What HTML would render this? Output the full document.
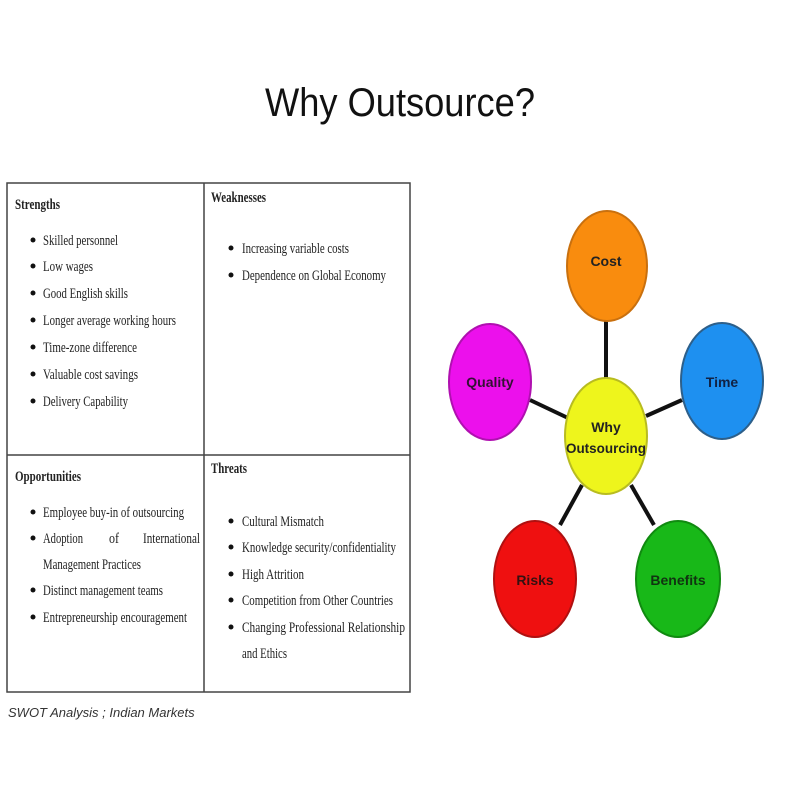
<!DOCTYPE html>
<html><head><meta charset="utf-8"><style>
html,body{margin:0;padding:0;background:#fff;width:800px;height:800px;overflow:hidden}
svg text{font-family:"Liberation Serif",serif;fill:#222}
</style></head><body>
<svg width="800" height="800" xmlns="http://www.w3.org/2000/svg">
<text x="400" y="116" text-anchor="middle" style="font-family:'Liberation Sans',sans-serif;font-size:40px;fill:#111" textLength="270" lengthAdjust="spacingAndGlyphs">Why Outsource?</text>
<g stroke="#444" stroke-width="1.5" fill="none">
<rect x="7" y="183" width="403" height="509"/>
<line x1="204" y1="183" x2="204" y2="692"/>
<line x1="7" y1="455" x2="410" y2="455"/>
</g>
<g font-size="15">
<text x="15" y="209" font-weight="bold" textLength="45" lengthAdjust="spacingAndGlyphs">Strengths</text>
<text x="211" y="202" font-weight="bold" textLength="55" lengthAdjust="spacingAndGlyphs">Weaknesses</text>
<text x="15" y="481" font-weight="bold" textLength="66" lengthAdjust="spacingAndGlyphs">Opportunities</text>
<text x="211" y="473" font-weight="bold" textLength="36" lengthAdjust="spacingAndGlyphs">Threats</text>

<text x="43" y="245" textLength="75" lengthAdjust="spacingAndGlyphs">Skilled personnel</text>
<text x="43" y="271" textLength="50" lengthAdjust="spacingAndGlyphs">Low wages</text>
<text x="43" y="298" textLength="85" lengthAdjust="spacingAndGlyphs">Good English skills</text>
<text x="43" y="325" textLength="133" lengthAdjust="spacingAndGlyphs">Longer average working hours</text>
<text x="43" y="352" textLength="94" lengthAdjust="spacingAndGlyphs">Time-zone difference</text>
<text x="43" y="379" textLength="95" lengthAdjust="spacingAndGlyphs">Valuable cost savings</text>
<text x="43" y="406" textLength="85" lengthAdjust="spacingAndGlyphs">Delivery Capability</text>

<text x="242" y="253" textLength="107" lengthAdjust="spacingAndGlyphs">Increasing variable costs</text>
<text x="242" y="280" textLength="144" lengthAdjust="spacingAndGlyphs">Dependence on Global Economy</text>

<text x="43" y="517" textLength="141" lengthAdjust="spacingAndGlyphs">Employee buy-in of outsourcing</text>
<text x="43" y="543" textLength="40" lengthAdjust="spacingAndGlyphs">Adoption</text><text x="109" y="543" textLength="10" lengthAdjust="spacingAndGlyphs">of</text><text x="143" y="543" textLength="57" lengthAdjust="spacingAndGlyphs">International</text>
<text x="43" y="569" textLength="98" lengthAdjust="spacingAndGlyphs">Management Practices</text>
<text x="43" y="595" textLength="120" lengthAdjust="spacingAndGlyphs">Distinct management teams</text>
<text x="43" y="622" textLength="144" lengthAdjust="spacingAndGlyphs">Entrepreneurship encouragement</text>

<text x="242" y="526" textLength="82" lengthAdjust="spacingAndGlyphs">Cultural Mismatch</text>
<text x="242" y="552" textLength="154" lengthAdjust="spacingAndGlyphs">Knowledge security/confidentiality</text>
<text x="242" y="579" textLength="62" lengthAdjust="spacingAndGlyphs">High Attrition</text>
<text x="242" y="605" textLength="151" lengthAdjust="spacingAndGlyphs">Competition from Other Countries</text>
<text x="242" y="632" textLength="163" lengthAdjust="spacingAndGlyphs">Changing Professional Relationship</text>
<text x="242" y="658" textLength="45" lengthAdjust="spacingAndGlyphs">and Ethics</text>
</g>
<g fill="#111">
<circle cx="33" cy="240" r="2.5"/><circle cx="33" cy="266" r="2.5"/><circle cx="33" cy="293" r="2.5"/><circle cx="33" cy="320" r="2.5"/><circle cx="33" cy="347" r="2.5"/><circle cx="33" cy="374" r="2.5"/><circle cx="33" cy="401" r="2.5"/>
<circle cx="231" cy="248" r="2.5"/><circle cx="231" cy="275" r="2.5"/>
<circle cx="33" cy="512" r="2.5"/><circle cx="33" cy="538" r="2.5"/><circle cx="33" cy="590" r="2.5"/><circle cx="33" cy="617" r="2.5"/>
<circle cx="231" cy="521" r="2.5"/><circle cx="231" cy="547" r="2.5"/><circle cx="231" cy="574" r="2.5"/><circle cx="231" cy="600" r="2.5"/><circle cx="231" cy="627" r="2.5"/>
</g>
<text x="8" y="717" style="font-family:'Liberation Sans',sans-serif;font-style:italic;font-size:13px;fill:#333">SWOT Analysis ; Indian Markets</text>

<g stroke="#111" stroke-width="4">
<line x1="606" y1="320" x2="606" y2="380"/>
<line x1="530" y1="400" x2="568" y2="418"/>
<line x1="682" y1="400" x2="646" y2="416"/>
<line x1="582" y1="485" x2="560" y2="525"/>
<line x1="631" y1="485" x2="654" y2="525"/>
</g>
<g stroke-width="2">
<ellipse cx="607" cy="266" rx="40" ry="55" fill="#f98c0e" stroke="#c9700e"/>
<ellipse cx="722" cy="381" rx="41" ry="58" fill="#1e90f0" stroke="#2d5f8a"/>
<ellipse cx="490" cy="382" rx="41" ry="58" fill="#ec10ec" stroke="#b010b0"/>
<ellipse cx="606" cy="436" rx="41" ry="58" fill="#eef51c" stroke="#b8bc20"/>
<ellipse cx="535" cy="579" rx="41" ry="58" fill="#ef1010" stroke="#b01010"/>
<ellipse cx="678" cy="579" rx="42" ry="58" fill="#18b818" stroke="#108a10"/>
</g>
<g style="font-family:'Liberation Sans',sans-serif;font-weight:bold;font-size:14px" text-anchor="middle">
<text x="606" y="266" style="fill:#222;font-family:'Liberation Sans',sans-serif">Cost</text>
<text x="722" y="387" style="fill:#112244;font-family:'Liberation Sans',sans-serif">Time</text>
<text x="490" y="387" style="fill:#331133;font-family:'Liberation Sans',sans-serif">Quality</text>
<text x="606" y="432" style="fill:#222;font-family:'Liberation Sans',sans-serif">Why</text>
<text x="606" y="453" style="fill:#222;font-family:'Liberation Sans',sans-serif" textLength="80" lengthAdjust="spacingAndGlyphs">Outsourcing</text>
<text x="535" y="585" style="fill:#331111;font-family:'Liberation Sans',sans-serif">Risks</text>
<text x="678" y="585" style="fill:#113311;font-family:'Liberation Sans',sans-serif">Benefits</text>
</g>
</svg>
</body></html>
